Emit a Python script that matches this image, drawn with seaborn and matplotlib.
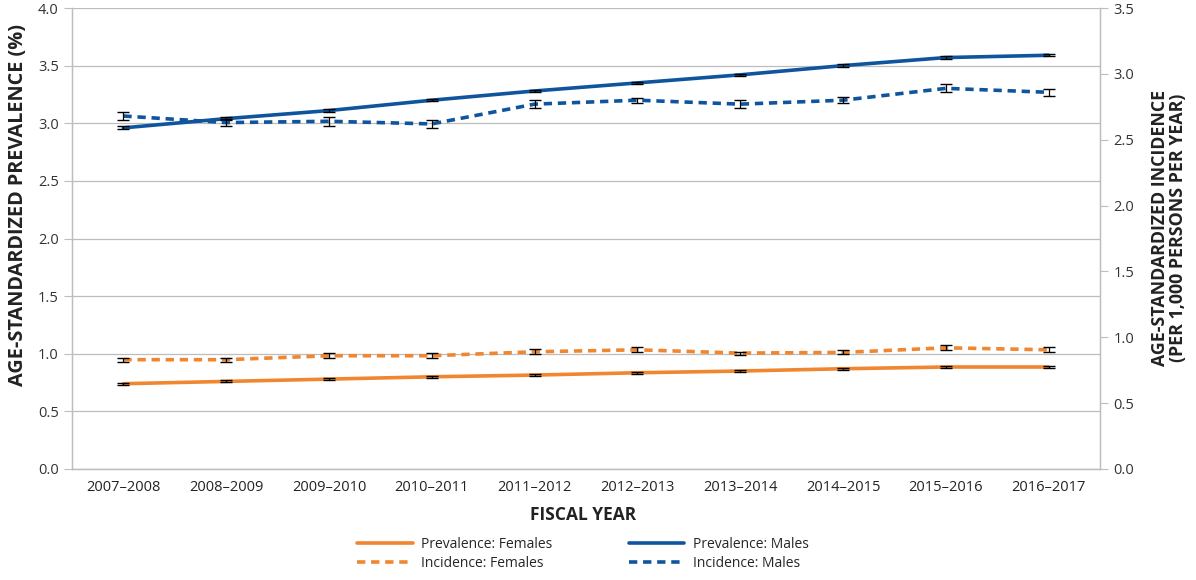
import numpy as np
import pandas as pd
import matplotlib
matplotlib.use("Agg")
import matplotlib.pyplot as plt
from matplotlib.lines import Line2D
import seaborn as sns

# ------------------------------------------------------------
# data
# ------------------------------------------------------------
years = ["2007\u20132008", "2008\u20132009", "2009\u20132010", "2010\u20132011", "2011\u20132012",
         "2012\u20132013", "2013\u20132014", "2014\u20132015", "2015\u20132016", "2016\u20132017"]

prev_f = [0.74, 0.76, 0.78, 0.80, 0.815, 0.835, 0.85, 0.87, 0.885, 0.885]
prev_m = [2.96, 3.04, 3.11, 3.20, 3.28, 3.35, 3.42, 3.50, 3.57, 3.59]
inc_f = [0.83, 0.83, 0.86, 0.86, 0.89, 0.905, 0.88, 0.885, 0.92, 0.905]
inc_m = [2.68, 2.63, 2.64, 2.62, 2.77, 2.80, 2.77, 2.80, 2.89, 2.86]

prev_f_err = [0.008, 0.008, 0.008, 0.008, 0.008, 0.008, 0.008, 0.008, 0.008, 0.008]
prev_m_err = [0.012, 0.012, 0.012, 0.01, 0.01, 0.01, 0.01, 0.01, 0.01, 0.01]
inc_f_err = [0.015, 0.015, 0.018, 0.018, 0.018, 0.02, 0.012, 0.015, 0.02, 0.018]
inc_m_err = [0.03, 0.028, 0.035, 0.028, 0.033, 0.02, 0.028, 0.025, 0.03, 0.025]

orange = "#F0862F"
blue = "#0F559E"
grid_c = "#BDBDBD"
dash = [2.3, 1.6]

sns.set_style("white")
plt.rcParams["font.family"] = ["Open Sans", "DejaVu Sans"]

fig = plt.figure(figsize=(11.96, 5.80), dpi=100)
ax = fig.add_axes([72 / 1196, 1 - 469 / 580, (1100 - 72) / 1196, (469 - 8) / 580])
ax2 = ax.twinx()

df = pd.DataFrame({"year": years, "prev_f": prev_f, "prev_m": prev_m,
                   "inc_f": inc_f, "inc_m": inc_m})
x = np.arange(len(years))

# prevalence on the left axis
sns.lineplot(x=x, y=df["prev_f"], ax=ax, color=orange, lw=2.6, zorder=3)
sns.lineplot(x=x, y=df["prev_m"], ax=ax, color=blue, lw=2.6, zorder=3)
ax.errorbar(x, prev_f, yerr=prev_f_err, fmt="none", ecolor="black", elinewidth=0.9, capsize=4.3, zorder=4)
ax.errorbar(x, prev_m, yerr=prev_m_err, fmt="none", ecolor="black", elinewidth=0.9, capsize=4.3, zorder=4)

# incidence on the right axis (dashed)
sns.lineplot(x=x, y=df["inc_f"], ax=ax2, color=orange, lw=2.6, zorder=3)
sns.lineplot(x=x, y=df["inc_m"], ax=ax2, color=blue, lw=2.6, zorder=3)
for ln in ax2.get_lines():
    ln.set_dashes(dash)
ax2.errorbar(x, inc_f, yerr=inc_f_err, fmt="none", ecolor="black", elinewidth=0.9, capsize=4.3, zorder=4)
ax2.errorbar(x, inc_m, yerr=inc_m_err, fmt="none", ecolor="black", elinewidth=0.9, capsize=4.3, zorder=4)

ax.set_xlim(-0.5, 9.5)
ax.set_ylim(0, 4.0)
ax2.set_ylim(0, 3.5)
ax.set_yticks(np.arange(0, 4.01, 0.5))
ax2.set_yticks(np.arange(0, 3.51, 0.5))
ax.set_yticklabels([f"{v:.1f}" for v in np.arange(0, 4.01, 0.5)])
ax2.set_yticklabels([f"{v:.1f}" for v in np.arange(0, 3.51, 0.5)])

ax.set_xticks(x)
ax.set_xticklabels(years)
ax.set_xticks(np.arange(-0.5, 10, 1), minor=True)
ax.tick_params(axis="x", which="major", length=0, pad=8, labelsize=10.5, colors="#222222")
ax.tick_params(axis="x", which="minor", length=6, color=grid_c, width=0.8)
ax.tick_params(axis="y", length=6, color=grid_c, width=0.8, labelsize=10.5, colors="#333333")
ax2.tick_params(axis="y", length=6, color=grid_c, width=0.8, labelsize=10.5, colors="#333333")
ax.set_ylabel("")
ax2.set_ylabel("")

ax.yaxis.grid(True, color=grid_c, lw=0.9)
ax.set_axisbelow(True)
for a in (ax, ax2):
    a.spines["top"].set_visible(False)
    for s in ("left", "right", "bottom"):
        a.spines[s].set_color(grid_c)
        a.spines[s].set_linewidth(0.9)

fig.text(583 / 1196, 1 - 515 / 580, "FISCAL YEAR", fontsize=12.5, fontweight="bold",
         color="#222222", ha="center", va="center")
fig.text(18 / 1196, 1 - 205 / 580, "AGE-STANDARDIZED PREVALENCE (%)", fontsize=14.3, fontweight="bold",
         color="#222222", ha="center", va="center", rotation=90)
fig.text(1169 / 1196, 1 - 228 / 580, "AGE-STANDARDIZED INCIDENCE\n(PER 1,000 PERSONS PER YEAR)",
         fontsize=12.8, fontweight="bold", color="#222222", ha="center", va="center",
         rotation=90, linespacing=0.95, multialignment="center")

handles = [Line2D([], [], color=orange, lw=2.6),
           Line2D([], [], color=orange, lw=2.6, dashes=dash),
           Line2D([], [], color=blue, lw=2.6),
           Line2D([], [], color=blue, lw=2.6, dashes=dash)]
labels = ["Prevalence: Females", "Incidence: Females", "Prevalence: Males", "Incidence: Males"]
fig.legend(handles, labels, ncol=2, loc="center", bbox_to_anchor=(583 / 1196, 1 - 554 / 580),
           frameon=False, fontsize=10, handlelength=4.0, columnspacing=5.5, labelspacing=0.25,
           handletextpad=0.6)

fig.savefig("out.png", dpi=100)
